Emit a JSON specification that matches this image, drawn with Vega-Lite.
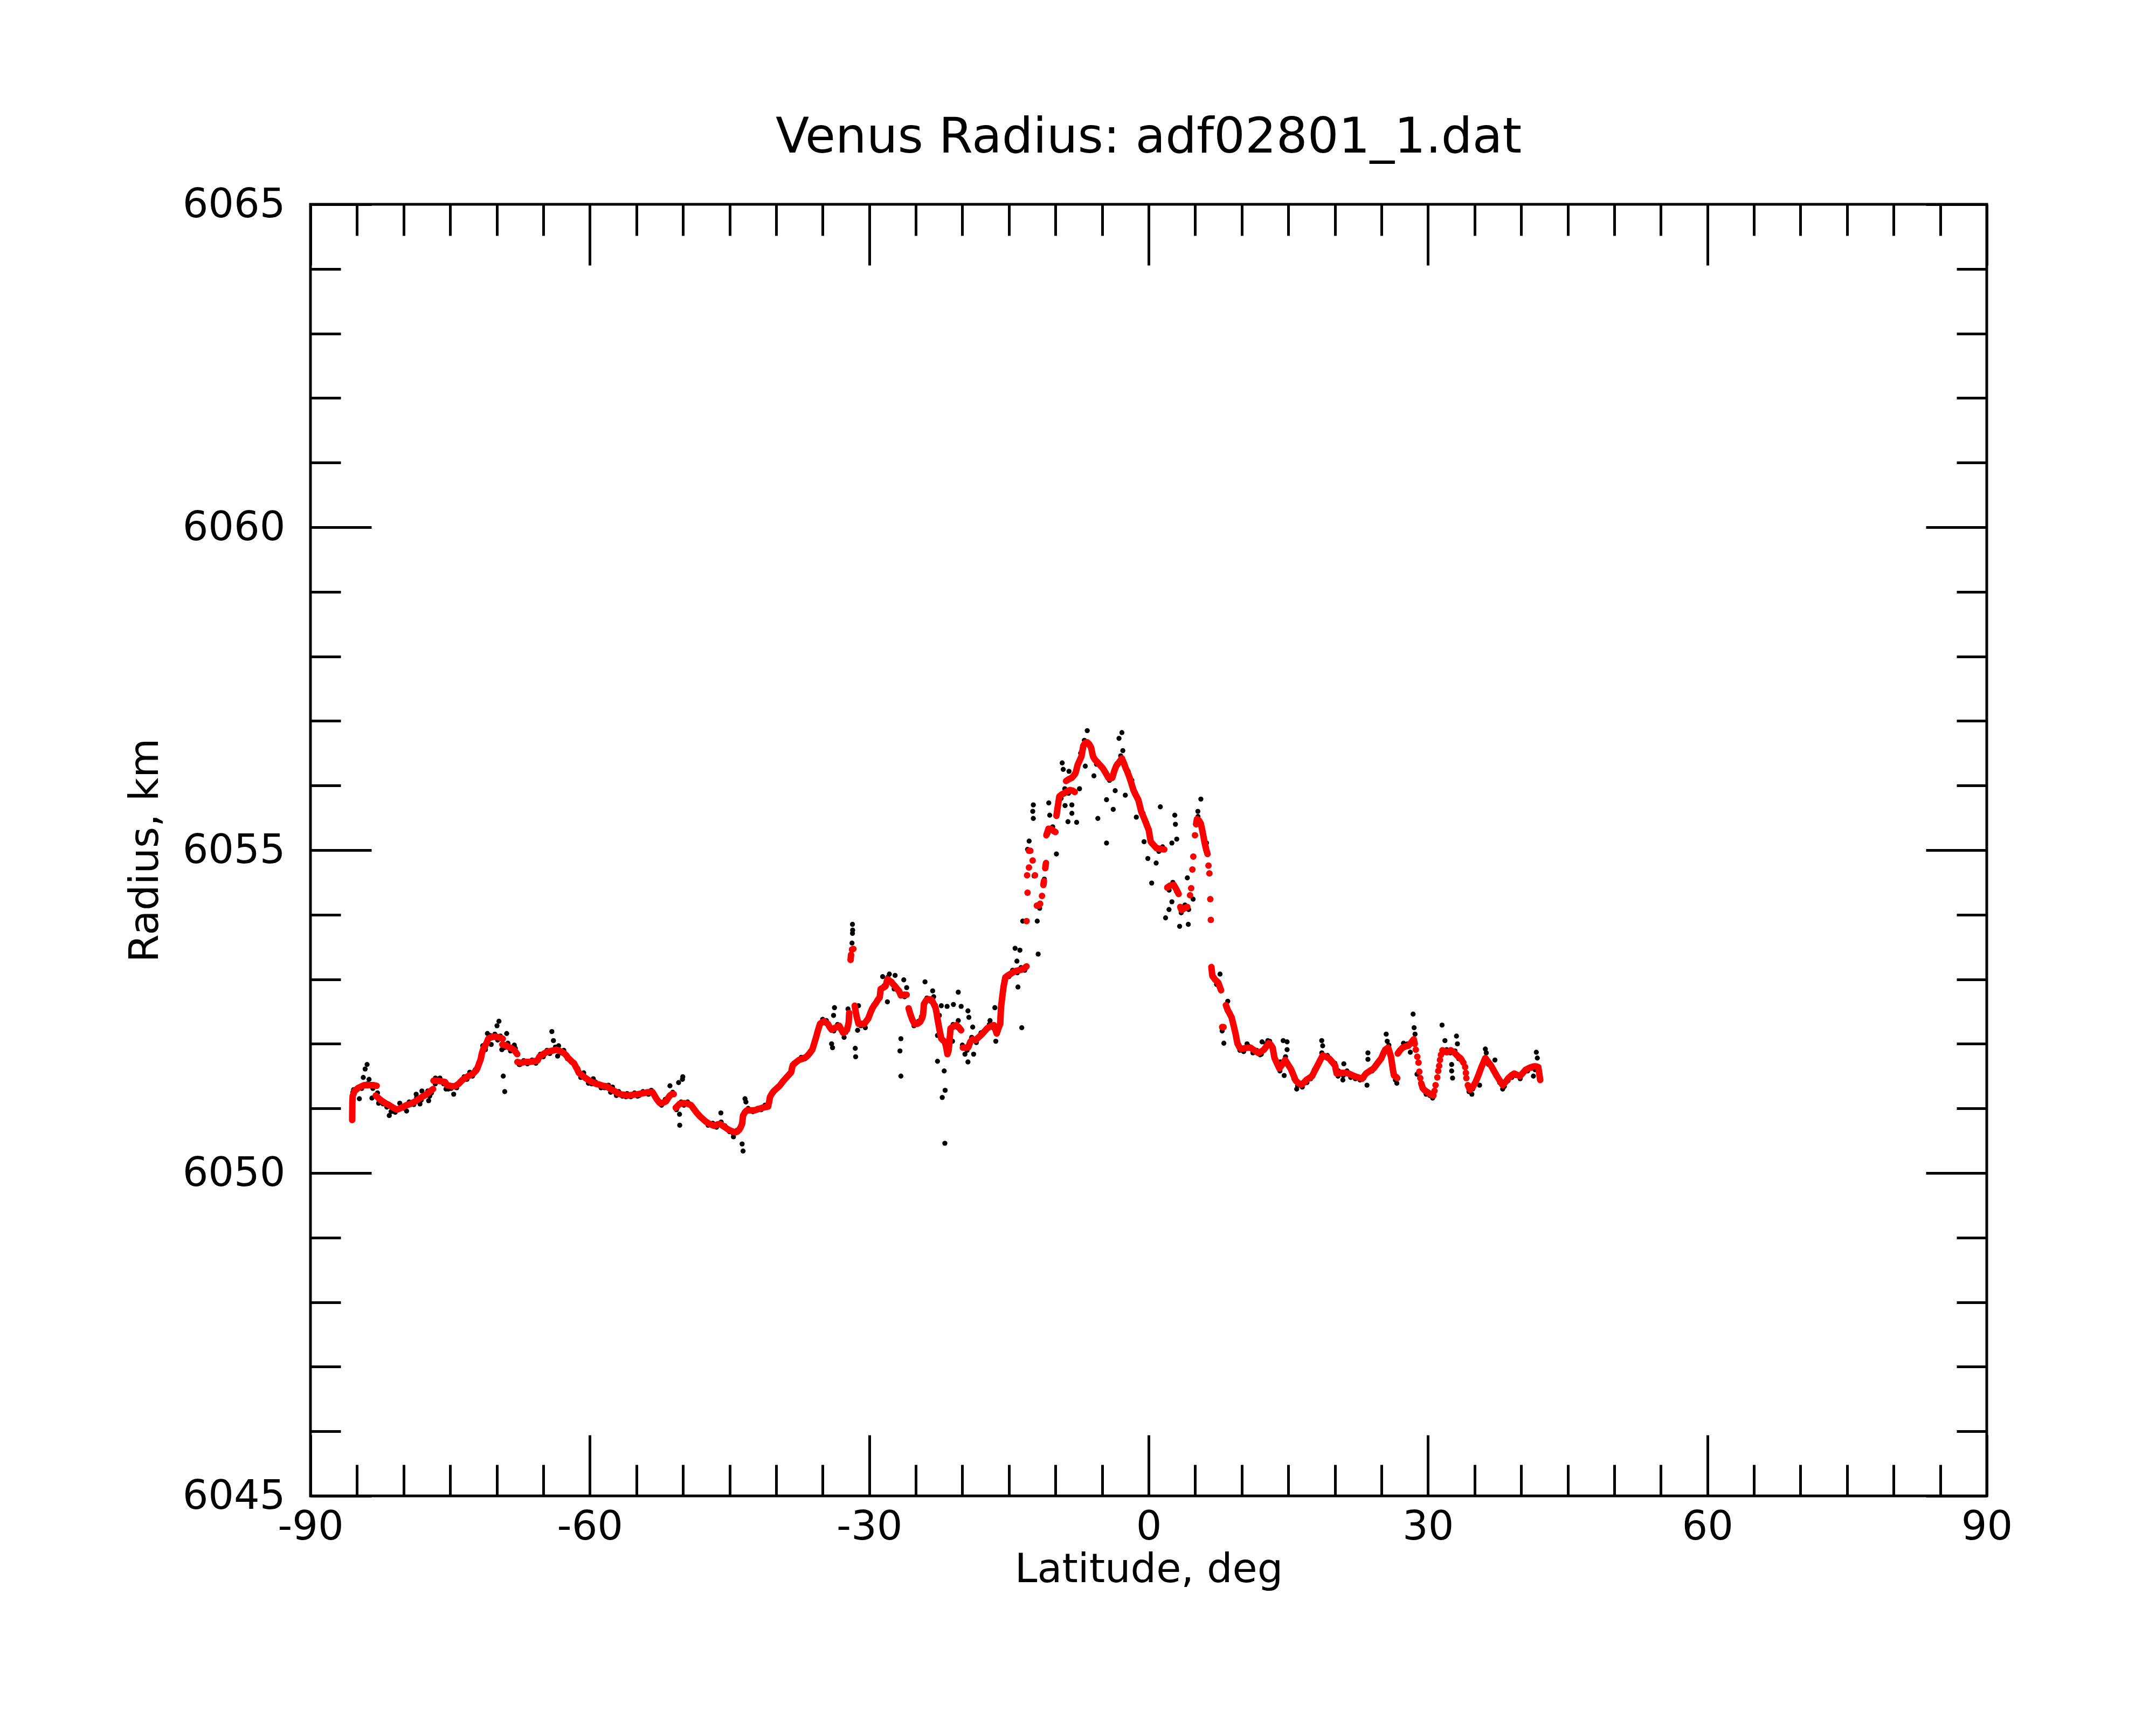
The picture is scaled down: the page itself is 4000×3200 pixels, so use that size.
{
"$schema": "https://vega.github.io/schema/vega-lite/v6.json",
"width": 3110,
"height": 2396,
"autosize": {"type": "none"},
"padding": {"left": 576, "top": 379, "right": 314, "bottom": 425},
"background": "white",
"title": {"text": "Venus Radius: adf02801_1.dat", "fontSize": 91, "font": "DejaVu Sans", "fontWeight": "normal", "color": "black", "anchor": "middle", "frame": "group", "baseline": "alphabetic", "offset": 60, "dy": 92},
"config": {
  "view": {"stroke": "black", "strokeWidth": 5},
  "axis": {"labelFont": "DejaVu Sans", "labelFontSize": 75, "labelColor": "black", "labelLimit": 0, "titleFont": "DejaVu Sans", "titleFontSize": 75, "titleFontWeight": "normal", "titleColor": "black", "titleLimit": 0, "grid": false, "domain": false, "tickColor": "black", "tickWidth": 5, "labelFlush": false, "labelOverlap": false, "labelBound": false}
},
"datasets": {
"raw": [
{"lat":-85.45,"r":6051.25},{"lat":-85.0,"r":6051.30},{"lat":-84.5,"r":6051.31},{"lat":-83.9,"r":6051.38},{"lat":-83.3,"r":6051.31},{"lat":-82.8,"r":6051.24},{"lat":-82.2,"r":6051.07},{"lat":-81.8,"r":6051.02},{"lat":-81.2,"r":6050.99},{"lat":-80.9,"r":6050.94},{"lat":-80.3,"r":6051.03},{"lat":-79.9,"r":6051.00},{"lat":-79.4,"r":6051.10},{"lat":-78.9,"r":6051.06},{"lat":-78.6,"r":6051.17},{"lat":-78.1,"r":6051.13},{"lat":-77.4,"r":6051.27},{"lat":-77.0,"r":6051.24},{"lat":-76.6,"r":6051.38},{"lat":-76.1,"r":6051.47},{"lat":-75.7,"r":6051.38},{"lat":-75.2,"r":6051.30},{"lat":-74.9,"r":6051.31},{"lat":-74.3,"r":6051.32},{"lat":-73.9,"r":6051.42},{"lat":-73.5,"r":6051.49},{"lat":-73.2,"r":6051.45},{"lat":-72.9,"r":6051.56},{"lat":-72.6,"r":6051.50},{"lat":-72.3,"r":6051.60},{"lat":-71.95,"r":6051.68},{"lat":-71.7,"r":6051.82},{"lat":-71.5,"r":6051.97},{"lat":-71.2,"r":6051.95},{"lat":-70.7,"r":6052.13},{"lat":-70.2,"r":6052.15},{"lat":-69.9,"r":6052.06},{"lat":-69.6,"r":6052.12},{"lat":-69.2,"r":6051.94},{"lat":-68.8,"r":6052.01},{"lat":-68.4,"r":6051.90},{"lat":-68.0,"r":6051.93},{"lat":-67.6,"r":6051.68},{"lat":-67.1,"r":6051.74},{"lat":-66.7,"r":6051.69},{"lat":-66.2,"r":6051.75},{"lat":-65.8,"r":6051.70},{"lat":-65.3,"r":6051.84},{"lat":-65.0,"r":6051.80},{"lat":-64.6,"r":6051.90},{"lat":-64.3,"r":6051.85},{"lat":-63.7,"r":6051.95},{"lat":-63.1,"r":6051.86},{"lat":-62.8,"r":6051.90},{"lat":-62.4,"r":6051.77},{"lat":-62.0,"r":6051.72},{"lat":-61.6,"r":6051.66},{"lat":-61.3,"r":6051.62},{"lat":-61.0,"r":6051.52},{"lat":-60.6,"r":6051.50},{"lat":-60.2,"r":6051.44},{"lat":-59.8,"r":6051.38},{"lat":-59.4,"r":6051.41},{"lat":-58.9,"r":6051.35},{"lat":-58.4,"r":6051.32},{"lat":-58.0,"r":6051.36},{"lat":-57.6,"r":6051.28},{"lat":-57.2,"r":6051.24},{"lat":-56.9,"r":6051.26},{"lat":-56.5,"r":6051.19},{"lat":-56.0,"r":6051.23},{"lat":-55.6,"r":6051.18},{"lat":-55.2,"r":6051.24},{"lat":-54.7,"r":6051.20},{"lat":-54.3,"r":6051.26},{"lat":-53.7,"r":6051.22},{"lat":-53.4,"r":6051.28},{"lat":-53.0,"r":6051.17},{"lat":-52.6,"r":6051.09},{"lat":-52.3,"r":6051.05},{"lat":-51.9,"r":6051.14},{"lat":-51.5,"r":6051.17},{"lat":-51.1,"r":6051.25},{"lat":-50.7,"r":6050.98},{"lat":-50.2,"r":6051.10},{"lat":-49.9,"r":6051.05},{"lat":-49.5,"r":6051.10},{"lat":-49.0,"r":6051.02},{"lat":-48.6,"r":6050.96},{"lat":-48.1,"r":6050.86},{"lat":-47.7,"r":6050.82},{"lat":-47.3,"r":6050.74},{"lat":-46.8,"r":6050.77},{"lat":-46.4,"r":6050.71},{"lat":-45.9,"r":6050.79},{"lat":-45.5,"r":6050.73},{"lat":-45.0,"r":6050.64},{"lat":-44.6,"r":6050.61},{"lat":-44.2,"r":6050.66},{"lat":-43.9,"r":6050.70},{"lat":-43.4,"r":6050.92},{"lat":-43.0,"r":6051.00},{"lat":-42.5,"r":6050.95},{"lat":-42.0,"r":6051.00},{"lat":-41.6,"r":6050.98},{"lat":-41.2,"r":6051.05},{"lat":-40.7,"r":6051.14},{"lat":-40.3,"r":6051.24},{"lat":-39.8,"r":6051.34},{"lat":-39.4,"r":6051.38},{"lat":-38.9,"r":6051.49},{"lat":-38.5,"r":6051.53},{"lat":-38.1,"r":6051.70},{"lat":-37.7,"r":6051.73},{"lat":-37.3,"r":6051.79},{"lat":-36.9,"r":6051.77},{"lat":-36.5,"r":6051.82},{"lat":-36.2,"r":6051.88},{"lat":-35.8,"r":6052.05},{"lat":-35.4,"r":6052.28},{"lat":-35.0,"r":6052.38},{"lat":-34.6,"r":6052.36},{"lat":-34.2,"r":6052.24},{"lat":-33.8,"r":6052.20},{"lat":-33.4,"r":6052.30},{"lat":-32.9,"r":6052.20},{"lat":-32.5,"r":6052.18},{"lat":-31.3,"r":6052.39},{"lat":-30.9,"r":6052.28},{"lat":-30.4,"r":6052.33},{"lat":-30.0,"r":6052.44},{"lat":-29.6,"r":6052.57},{"lat":-29.2,"r":6052.66},{"lat":-28.9,"r":6052.75},{"lat":-28.4,"r":6052.90},{"lat":-28.0,"r":6053.03},{"lat":-27.5,"r":6052.94},{"lat":-27.1,"r":6052.87},{"lat":-26.7,"r":6052.78},{"lat":-26.2,"r":6052.73},{"lat":-25.6,"r":6052.49},{"lat":-25.2,"r":6052.28},{"lat":-24.7,"r":6052.35},{"lat":-24.4,"r":6052.42},{"lat":-23.8,"r":6052.71},{"lat":-23.4,"r":6052.66},{"lat":-22.9,"r":6052.60},{"lat":-22.6,"r":6052.35},{"lat":-22.3,"r":6052.11},{"lat":-21.9,"r":6052.00},{"lat":-21.4,"r":6052.05},{"lat":-21.0,"r":6052.30},{"lat":-20.5,"r":6052.25},{"lat":-20.0,"r":6051.98},{"lat":-19.5,"r":6051.90},{"lat":-19.0,"r":6052.10},{"lat":-18.5,"r":6052.02},{"lat":-18.0,"r":6052.17},{"lat":-17.5,"r":6052.20},{"lat":-17.1,"r":6052.30},{"lat":-16.7,"r":6052.25},{"lat":-16.2,"r":6052.19},{"lat":-15.8,"r":6052.62},{"lat":-15.5,"r":6052.98},{"lat":-15.0,"r":6053.04},{"lat":-14.6,"r":6053.14},{"lat":-14.1,"r":6053.10},{"lat":-13.7,"r":6053.18},{"lat":-13.3,"r":6053.14},{"lat":-12.3,"r":6054.60},{"lat":-11.7,"r":6054.10},{"lat":-11.2,"r":6054.55},{"lat":-10.8,"r":6055.26},{"lat":-10.3,"r":6055.36},{"lat":-9.8,"r":6055.58},{"lat":-9.4,"r":6055.80},{"lat":-9.0,"r":6055.95},{"lat":-8.6,"r":6055.88},{"lat":-8.1,"r":6056.15},{"lat":-7.7,"r":6056.25},{"lat":-7.3,"r":6056.50},{"lat":-6.9,"r":6056.70},{"lat":-6.4,"r":6056.62},{"lat":-6.0,"r":6056.48},{"lat":-5.6,"r":6056.33},{"lat":-5.1,"r":6056.30},{"lat":-4.7,"r":6056.22},{"lat":-4.2,"r":6056.08},{"lat":-3.8,"r":6056.16},{"lat":-3.4,"r":6056.34},{"lat":-3.0,"r":6056.46},{"lat":-2.6,"r":6056.30},{"lat":-2.2,"r":6056.22},{"lat":-1.8,"r":6056.08},{"lat":-1.4,"r":6055.88},{"lat":-1.0,"r":6055.72},{"lat":-0.6,"r":6055.57},{"lat":-0.2,"r":6055.42},{"lat":0.3,"r":6055.10},{"lat":0.7,"r":6055.06},{"lat":1.1,"r":6054.98},{"lat":1.5,"r":6055.05},{"lat":2.2,"r":6054.38},{"lat":2.6,"r":6054.50},{"lat":3.0,"r":6054.36},{"lat":3.5,"r":6054.03},{"lat":3.9,"r":6054.15},{"lat":4.3,"r":6054.08},{"lat":5.3,"r":6055.52},{"lat":5.7,"r":6055.36},{"lat":6.1,"r":6055.06},{"lat":7.0,"r":6053.04},{"lat":7.3,"r":6052.92},{"lat":7.9,"r":6052.20},{"lat":8.6,"r":6052.50},{"lat":9.0,"r":6052.36},{"lat":9.4,"r":6052.12},{"lat":9.8,"r":6051.90},{"lat":10.2,"r":6051.88},{"lat":10.7,"r":6051.97},{"lat":11.2,"r":6051.86},{"lat":11.6,"r":6051.90},{"lat":12.1,"r":6051.84},{"lat":12.6,"r":6052.00},{"lat":13.0,"r":6052.04},{"lat":13.6,"r":6051.74},{"lat":14.1,"r":6051.58},{"lat":14.7,"r":6051.80},{"lat":15.1,"r":6051.64},{"lat":15.6,"r":6051.46},{"lat":16.0,"r":6051.35},{"lat":16.5,"r":6051.33},{"lat":17.0,"r":6051.40},{"lat":17.4,"r":6051.46},{"lat":17.8,"r":6051.60},{"lat":18.2,"r":6051.68},{"lat":18.6,"r":6051.86},{"lat":19.2,"r":6051.82},{"lat":19.6,"r":6051.72},{"lat":20.0,"r":6051.70},{"lat":20.4,"r":6051.58},{"lat":20.9,"r":6051.51},{"lat":21.3,"r":6051.58},{"lat":21.7,"r":6051.48},{"lat":22.2,"r":6051.46},{"lat":22.7,"r":6051.44},{"lat":23.1,"r":6051.47},{"lat":23.6,"r":6051.57},{"lat":24.0,"r":6051.58},{"lat":24.4,"r":6051.66},{"lat":24.8,"r":6051.74},{"lat":25.3,"r":6051.88},{"lat":25.8,"r":6051.98},{"lat":26.2,"r":6051.60},{"lat":26.5,"r":6051.44},{"lat":26.9,"r":6051.88},{"lat":27.4,"r":6051.97},{"lat":27.8,"r":6052.00},{"lat":28.3,"r":6052.04},{"lat":29.5,"r":6051.30},{"lat":29.8,"r":6051.22},{"lat":30.2,"r":6051.20},{"lat":30.5,"r":6051.16},{"lat":31.6,"r":6051.86},{"lat":32.0,"r":6051.91},{"lat":32.4,"r":6051.86},{"lat":32.9,"r":6051.89},{"lat":33.3,"r":6051.77},{"lat":34.4,"r":6051.26},{"lat":34.8,"r":6051.30},{"lat":35.2,"r":6051.45},{"lat":35.6,"r":6051.60},{"lat":36.0,"r":6051.74},{"lat":36.5,"r":6051.68},{"lat":36.9,"r":6051.62},{"lat":37.3,"r":6051.53},{"lat":37.7,"r":6051.40},{"lat":38.2,"r":6051.34},{"lat":38.6,"r":6051.43},{"lat":39.0,"r":6051.48},{"lat":39.4,"r":6051.51},{"lat":39.9,"r":6051.46},{"lat":40.3,"r":6051.56},{"lat":40.7,"r":6051.58},{"lat":41.1,"r":6051.62},{"lat":41.5,"r":6051.60},{"lat":41.9,"r":6051.60},{"lat":42.0,"r":6051.50},
{"lat":-83.92,"r":6051.68},{"lat":-84.13,"r":6051.61},{"lat":-84.33,"r":6051.48},{"lat":-83.71,"r":6051.45},{"lat":-84.75,"r":6051.15},{"lat":-85.37,"r":6051.29},{"lat":-83.40,"r":6051.16},{"lat":-82.68,"r":6051.08},{"lat":-81.54,"r":6050.89},{"lat":-81.34,"r":6050.95},{"lat":-80.41,"r":6051.08},{"lat":-79.68,"r":6050.96},{"lat":-78.65,"r":6051.22},{"lat":-78.03,"r":6051.27},{"lat":-78.24,"r":6051.07},{"lat":-77.31,"r":6051.12},{"lat":-77.20,"r":6051.19},{"lat":-76.58,"r":6051.47},{"lat":-75.45,"r":6051.30},{"lat":-74.62,"r":6051.22},{"lat":-71.00,"r":6052.16},{"lat":-69.97,"r":6052.28},{"lat":-69.76,"r":6052.35},{"lat":-68.93,"r":6052.16},{"lat":-69.45,"r":6051.91},{"lat":-70.59,"r":6051.99},{"lat":-71.21,"r":6051.91},{"lat":-68.11,"r":6051.98},{"lat":-68.52,"r":6051.89},{"lat":-69.30,"r":6051.50},{"lat":-69.14,"r":6051.26},{"lat":-67.49,"r":6051.68},{"lat":-64.08,"r":6052.19},{"lat":-63.91,"r":6052.05},{"lat":-63.35,"r":6051.97},{"lat":-63.46,"r":6051.81},{"lat":-60.66,"r":6051.55},{"lat":-60.98,"r":6051.48},{"lat":-59.63,"r":6051.46},{"lat":-60.15,"r":6051.39},{"lat":-58.80,"r":6051.32},{"lat":-57.57,"r":6051.33},{"lat":-57.77,"r":6051.25},{"lat":-57.15,"r":6051.20},{"lat":-56.12,"r":6051.18},{"lat":-54.88,"r":6051.19},
{"lat":-31.80,"r":6053.85},{"lat":-31.78,"r":6053.76},{"lat":-31.80,"r":6053.71},{"lat":-31.85,"r":6053.56},{"lat":-51.40,"r":6051.35},{"lat":-50.47,"r":6051.40},{"lat":-50.06,"r":6051.45},{"lat":-50.02,"r":6051.49},{"lat":-50.37,"r":6050.91},{"lat":-50.35,"r":6050.74},{"lat":-45.93,"r":6050.93},{"lat":-43.34,"r":6051.15},{"lat":-43.24,"r":6051.10},{"lat":-43.65,"r":6050.45},{"lat":-43.55,"r":6050.34},{"lat":-44.58,"r":6050.56},{"lat":-33.73,"r":6052.56},{"lat":-33.83,"r":6052.44},{"lat":-34.04,"r":6052.00},{"lat":-33.94,"r":6051.94},{"lat":-32.70,"r":6052.10},{"lat":-32.28,"r":6052.54},{"lat":-31.15,"r":6052.59},{"lat":-31.25,"r":6052.21},{"lat":-31.50,"r":6051.93},{"lat":-31.46,"r":6051.80},{"lat":-30.42,"r":6052.25},{"lat":-28.56,"r":6053.04},{"lat":-27.84,"r":6053.08},{"lat":-27.22,"r":6053.06},{"lat":-26.29,"r":6052.99},{"lat":-25.98,"r":6052.87},{"lat":-27.32,"r":6052.85},{"lat":-28.05,"r":6052.65},{"lat":-24.01,"r":6052.96},{"lat":-23.19,"r":6052.82},{"lat":-23.08,"r":6052.73},{"lat":-22.26,"r":6052.59},{"lat":-21.64,"r":6052.58},{"lat":-22.47,"r":6052.44},{"lat":-22.67,"r":6052.13},{"lat":-26.60,"r":6052.08},{"lat":-26.70,"r":6051.89},{"lat":-26.60,"r":6051.50},{"lat":-22.67,"r":6051.73},{"lat":-21.95,"r":6051.58},{"lat":-21.85,"r":6051.28},{"lat":-22.16,"r":6051.17},{"lat":-21.88,"r":6050.46},
{"lat":-6.59,"r":6056.85},{"lat":-2.87,"r":6056.82},{"lat":-3.18,"r":6056.73},{"lat":-9.28,"r":6056.35},{"lat":-9.17,"r":6056.25},{"lat":-8.55,"r":6056.22},{"lat":-10.72,"r":6055.73},{"lat":-12.38,"r":6055.70},{"lat":-12.44,"r":6055.60},{"lat":-12.38,"r":6055.49},{"lat":-10.62,"r":6055.54},{"lat":-8.97,"r":6055.69},{"lat":-8.24,"r":6055.70},{"lat":-8.24,"r":6055.57},{"lat":-8.66,"r":6055.44},{"lat":-7.73,"r":6055.43},{"lat":-7.42,"r":6055.95},{"lat":-6.80,"r":6056.30},{"lat":-5.87,"r":6056.15},{"lat":-5.45,"r":6055.49},{"lat":-4.52,"r":6055.78},{"lat":-4.52,"r":6055.11},{"lat":-3.80,"r":6055.63},{"lat":-3.59,"r":6055.92},{"lat":-2.77,"r":6056.54},{"lat":-2.50,"r":6055.85},{"lat":-1.32,"r":6055.51},{"lat":-0.49,"r":6055.13},{"lat":-0.08,"r":6054.87},{"lat":0.33,"r":6054.49},{"lat":0.81,"r":6054.80},{"lat":1.26,"r":6055.67},{"lat":2.50,"r":6055.11},{"lat":2.81,"r":6055.54},{"lat":2.88,"r":6055.40},{"lat":3.02,"r":6055.17},{"lat":1.82,"r":6053.95},{"lat":2.19,"r":6054.08},{"lat":2.50,"r":6054.20},{"lat":4.16,"r":6054.57},{"lat":4.78,"r":6054.24},{"lat":3.33,"r":6053.82},{"lat":4.26,"r":6053.85},{"lat":5.61,"r":6055.79},{"lat":5.29,"r":6055.60},{"lat":6.22,"r":6055.11},{"lat":7.67,"r":6053.08},{"lat":8.50,"r":6052.66},{"lat":8.08,"r":6052.01},{"lat":10.57,"r":6052.00},{"lat":-20.44,"r":6052.80},{"lat":-20.96,"r":6052.61},{"lat":-20.13,"r":6052.58},{"lat":-19.40,"r":6052.51},{"lat":-19.30,"r":6052.41},{"lat":-20.44,"r":6052.36},{"lat":-21.06,"r":6052.04},{"lat":-19.72,"r":6051.84},{"lat":-19.40,"r":6051.72},{"lat":-18.79,"r":6051.84},{"lat":-18.89,"r":6052.26},{"lat":-16.51,"r":6052.56},{"lat":-17.03,"r":6052.36},{"lat":-16.41,"r":6052.04},{"lat":-13.62,"r":6052.25},{"lat":-14.34,"r":6053.48},{"lat":-13.82,"r":6053.45},{"lat":-14.14,"r":6053.28},{"lat":-14.03,"r":6052.88},{"lat":-13.52,"r":6053.90},{"lat":-11.86,"r":6053.39},{"lat":-11.96,"r":6053.90},{"lat":-12.83,"r":6055.14},{"lat":-13.00,"r":6055.01},{"lat":-9.90,"r":6054.94},
{"lat":28.40,"r":6052.46},{"lat":28.51,"r":6052.25},{"lat":28.61,"r":6052.15},{"lat":31.51,"r":6052.29},{"lat":33.06,"r":6052.12},{"lat":31.82,"r":6052.05},{"lat":33.16,"r":6052.00},{"lat":25.51,"r":6052.15},{"lat":25.62,"r":6052.04},{"lat":18.59,"r":6052.05},{"lat":18.69,"r":6051.97},{"lat":14.87,"r":6051.91},{"lat":14.45,"r":6052.05},{"lat":14.87,"r":6052.03},{"lat":14.56,"r":6051.51},{"lat":14.14,"r":6051.72},{"lat":12.18,"r":6052.03},{"lat":12.80,"r":6052.05},{"lat":11.97,"r":6051.83},{"lat":23.55,"r":6051.86},{"lat":23.55,"r":6051.76},{"lat":23.45,"r":6051.36},{"lat":20.96,"r":6051.69},{"lat":20.86,"r":6051.44},{"lat":26.65,"r":6051.39},{"lat":27.37,"r":6052.01},{"lat":28.10,"r":6051.87},{"lat":28.82,"r":6051.53},{"lat":32.54,"r":6051.58},{"lat":32.64,"r":6051.47},{"lat":32.54,"r":6051.68},{"lat":34.71,"r":6051.22},{"lat":35.54,"r":6051.36},{"lat":36.16,"r":6051.92},{"lat":36.26,"r":6051.86},{"lat":37.19,"r":6051.75},{"lat":38.02,"r":6051.30},{"lat":41.63,"r":6051.87},{"lat":41.74,"r":6051.78},{"lat":41.32,"r":6051.50},{"lat":15.90,"r":6051.30},{"lat":30.16,"r":6051.22},{"lat":20.34,"r":6051.50}
],
"smooth": [
{"lat":-85.52,"r":6050.82,"seg":1},{"lat":-85.51,"r":6050.97,"seg":1},{"lat":-85.50,"r":6051.08,"seg":1},{"lat":-85.47,"r":6051.19,"seg":1},{"lat":-85.26,"r":6051.27,"seg":1},{"lat":-84.85,"r":6051.32,"seg":1},{"lat":-84.23,"r":6051.36,"seg":1},{"lat":-83.61,"r":6051.36,"seg":1},{"lat":-83.20,"r":6051.36,"seg":1},{"lat":-82.89,"r":6051.35,"seg":1},
{"lat":-82.99,"r":6051.20,"seg":2},{"lat":-82.70,"r":6051.16,"seg":2},{"lat":-82.37,"r":6051.12,"seg":2},{"lat":-81.95,"r":6051.08,"seg":2},{"lat":-81.54,"r":6051.05,"seg":2},{"lat":-81.10,"r":6051.01,"seg":2},{"lat":-80.72,"r":6050.98,"seg":2},{"lat":-80.40,"r":6051.00,"seg":2},{"lat":-80.10,"r":6051.02,"seg":2},{"lat":-79.70,"r":6051.05,"seg":2},{"lat":-79.27,"r":6051.07,"seg":2},{"lat":-78.85,"r":6051.10,"seg":2},{"lat":-78.44,"r":6051.14,"seg":2},{"lat":-78.00,"r":6051.18,"seg":2},{"lat":-77.61,"r":6051.21,"seg":2},{"lat":-77.20,"r":6051.26,"seg":2},{"lat":-76.83,"r":6051.30,"seg":2},
{"lat":-76.79,"r":6051.43,"seg":3},{"lat":-76.40,"r":6051.43,"seg":3},{"lat":-75.96,"r":6051.42,"seg":3},{"lat":-75.55,"r":6051.41,"seg":3},{"lat":-75.34,"r":6051.36,"seg":3},{"lat":-75.00,"r":6051.35,"seg":3},{"lat":-74.72,"r":6051.34,"seg":3},{"lat":-74.40,"r":6051.35,"seg":3},{"lat":-74.10,"r":6051.38,"seg":3},{"lat":-73.69,"r":6051.44,"seg":3},{"lat":-73.38,"r":6051.47,"seg":3},{"lat":-73.07,"r":6051.50,"seg":3},{"lat":-72.75,"r":6051.52,"seg":3},{"lat":-72.45,"r":6051.55,"seg":3},{"lat":-72.20,"r":6051.59,"seg":3},{"lat":-72.03,"r":6051.64,"seg":3},{"lat":-71.83,"r":6051.72,"seg":3},{"lat":-71.72,"r":6051.76,"seg":3},{"lat":-71.65,"r":6051.81,"seg":3},{"lat":-71.58,"r":6051.86,"seg":3},{"lat":-71.41,"r":6051.93,"seg":3},{"lat":-71.25,"r":6051.97,"seg":3},{"lat":-71.10,"r":6052.01,"seg":3},{"lat":-70.90,"r":6052.08,"seg":3},{"lat":-70.62,"r":6052.10,"seg":3},{"lat":-70.38,"r":6052.11,"seg":3},{"lat":-70.05,"r":6052.11,"seg":3},{"lat":-69.76,"r":6052.10,"seg":3},{"lat":-69.55,"r":6052.09,"seg":3},{"lat":-69.35,"r":6052.08,"seg":3},
{"lat":-69.40,"r":6051.99,"seg":4},{"lat":-69.15,"r":6051.98,"seg":4},{"lat":-68.93,"r":6051.97,"seg":4},{"lat":-68.72,"r":6051.95,"seg":4},{"lat":-68.52,"r":6051.94,"seg":4},{"lat":-68.30,"r":6051.92,"seg":4},{"lat":-68.11,"r":6051.90,"seg":4},{"lat":-67.95,"r":6051.87,"seg":4},{"lat":-67.80,"r":6051.84,"seg":4},
{"lat":-67.78,"r":6051.72,"seg":5},{"lat":-67.55,"r":6051.71,"seg":5},{"lat":-67.28,"r":6051.71,"seg":5},{"lat":-66.90,"r":6051.72,"seg":5},{"lat":-66.45,"r":6051.72,"seg":5},{"lat":-66.05,"r":6051.73,"seg":5},{"lat":-65.63,"r":6051.74,"seg":5},{"lat":-65.42,"r":6051.80,"seg":5},{"lat":-65.10,"r":6051.83,"seg":5},{"lat":-64.80,"r":6051.86,"seg":5},{"lat":-64.50,"r":6051.88,"seg":5},{"lat":-64.18,"r":6051.89,"seg":5},{"lat":-63.85,"r":6051.90,"seg":5},{"lat":-63.56,"r":6051.91,"seg":5},{"lat":-63.25,"r":6051.89,"seg":5},{"lat":-62.94,"r":6051.87,"seg":5},{"lat":-62.73,"r":6051.85,"seg":5},{"lat":-62.53,"r":6051.82,"seg":5},{"lat":-62.32,"r":6051.78,"seg":5},{"lat":-62.11,"r":6051.75,"seg":5},{"lat":-61.90,"r":6051.72,"seg":5},{"lat":-61.70,"r":6051.70,"seg":5},{"lat":-61.49,"r":6051.64,"seg":5},{"lat":-61.33,"r":6051.60,"seg":5},{"lat":-61.18,"r":6051.55,"seg":5},{"lat":-60.82,"r":6051.51,"seg":5},{"lat":-60.46,"r":6051.47,"seg":5},{"lat":-60.05,"r":6051.43,"seg":5},{"lat":-59.63,"r":6051.40,"seg":5},{"lat":-59.32,"r":6051.38,"seg":5},{"lat":-59.01,"r":6051.37,"seg":5},{"lat":-58.60,"r":6051.35,"seg":5},{"lat":-58.18,"r":6051.34,"seg":5},{"lat":-57.77,"r":6051.30,"seg":5},{"lat":-57.36,"r":6051.27,"seg":5},{"lat":-57.05,"r":6051.24,"seg":5},{"lat":-56.74,"r":6051.22,"seg":5},{"lat":-56.32,"r":6051.21,"seg":5},{"lat":-55.91,"r":6051.20,"seg":5},{"lat":-55.40,"r":6051.21,"seg":5},{"lat":-54.88,"r":6051.22,"seg":5},{"lat":-54.47,"r":6051.23,"seg":5},{"lat":-54.05,"r":6051.24,"seg":5},{"lat":-53.88,"r":6051.25,"seg":5},{"lat":-53.55,"r":6051.25,"seg":5},{"lat":-53.26,"r":6051.25,"seg":5},{"lat":-53.05,"r":6051.20,"seg":5},{"lat":-52.85,"r":6051.15,"seg":5},{"lat":-52.65,"r":6051.11,"seg":5},{"lat":-52.44,"r":6051.08,"seg":5},{"lat":-52.13,"r":6051.09,"seg":5},{"lat":-51.82,"r":6051.11,"seg":5},{"lat":-51.60,"r":6051.16,"seg":5},{"lat":-51.40,"r":6051.20,"seg":5},{"lat":-51.20,"r":6051.22,"seg":5},{"lat":-50.99,"r":6051.22,"seg":5},
{"lat":-50.78,"r":6051.01,"seg":6},{"lat":-50.57,"r":6051.04,"seg":6},{"lat":-50.37,"r":6051.07,"seg":6},{"lat":-50.06,"r":6051.08,"seg":6},{"lat":-49.75,"r":6051.08,"seg":6},{"lat":-49.44,"r":6051.07,"seg":6},{"lat":-49.13,"r":6051.05,"seg":6},{"lat":-48.82,"r":6050.99,"seg":6},{"lat":-48.51,"r":6050.93,"seg":6},{"lat":-48.20,"r":6050.88,"seg":6},{"lat":-47.89,"r":6050.84,"seg":6},{"lat":-47.58,"r":6050.80,"seg":6},{"lat":-47.27,"r":6050.77,"seg":6},{"lat":-46.96,"r":6050.75,"seg":6},{"lat":-46.65,"r":6050.73,"seg":6},{"lat":-46.34,"r":6050.75,"seg":6},{"lat":-46.03,"r":6050.76,"seg":6},{"lat":-45.72,"r":6050.73,"seg":6},{"lat":-45.41,"r":6050.70,"seg":6},{"lat":-45.10,"r":6050.67,"seg":6},{"lat":-44.79,"r":6050.65,"seg":6},{"lat":-44.58,"r":6050.64,"seg":6},{"lat":-44.38,"r":6050.63,"seg":6},{"lat":-44.17,"r":6050.64,"seg":6},{"lat":-43.96,"r":6050.67,"seg":6},{"lat":-43.80,"r":6050.71,"seg":6},{"lat":-43.65,"r":6050.76,"seg":6},{"lat":-43.55,"r":6050.89,"seg":6},{"lat":-43.35,"r":6050.94,"seg":6},{"lat":-43.14,"r":6050.97,"seg":6},{"lat":-42.72,"r":6050.97,"seg":6},{"lat":-42.31,"r":6050.97,"seg":6},{"lat":-41.90,"r":6050.99,"seg":6},{"lat":-41.48,"r":6051.01,"seg":6},{"lat":-41.17,"r":6051.02,"seg":6},{"lat":-40.86,"r":6051.03,"seg":6},{"lat":-40.75,"r":6051.10,"seg":6},{"lat":-40.65,"r":6051.18,"seg":6},{"lat":-40.45,"r":6051.23,"seg":6},{"lat":-40.24,"r":6051.27,"seg":6},{"lat":-39.93,"r":6051.31,"seg":6},{"lat":-39.62,"r":6051.35,"seg":6},{"lat":-39.31,"r":6051.41,"seg":6},{"lat":-39.00,"r":6051.46,"seg":6},{"lat":-38.69,"r":6051.51,"seg":6},{"lat":-38.38,"r":6051.56,"seg":6},{"lat":-38.30,"r":6051.62,"seg":6},{"lat":-38.20,"r":6051.67,"seg":6},{"lat":-37.90,"r":6051.71,"seg":6},{"lat":-37.55,"r":6051.75,"seg":6},{"lat":-37.14,"r":6051.77,"seg":6},{"lat":-36.73,"r":6051.80,"seg":6},{"lat":-36.42,"r":6051.85,"seg":6},{"lat":-36.11,"r":6051.91,"seg":6},{"lat":-35.90,"r":6052.01,"seg":6},{"lat":-35.69,"r":6052.11,"seg":6},{"lat":-35.50,"r":6052.21,"seg":6},{"lat":-35.28,"r":6052.31,"seg":6},{"lat":-34.87,"r":6052.35,"seg":6},{"lat":-34.66,"r":6052.33,"seg":6},{"lat":-34.45,"r":6052.31,"seg":6},{"lat":-34.25,"r":6052.26,"seg":6},{"lat":-34.04,"r":6052.22,"seg":6},{"lat":-33.63,"r":6052.25,"seg":6},{"lat":-33.21,"r":6052.28,"seg":6},{"lat":-33.00,"r":6052.22,"seg":6},{"lat":-32.80,"r":6052.17,"seg":6},{"lat":-32.59,"r":6052.19,"seg":6},{"lat":-32.39,"r":6052.22,"seg":6},{"lat":-32.25,"r":6052.30,"seg":6},{"lat":-32.20,"r":6052.34,"seg":6},{"lat":-32.15,"r":6052.48,"seg":6},
{"lat":-32.00,"r":6053.30,"seg":7},{"lat":-31.95,"r":6053.38,"seg":7},
{"lat":-31.85,"r":6053.46,"seg":8},{"lat":-31.70,"r":6053.47,"seg":8},
{"lat":-31.56,"r":6052.59,"seg":9},{"lat":-31.45,"r":6052.50,"seg":9},{"lat":-31.35,"r":6052.42,"seg":9},{"lat":-31.15,"r":6052.31,"seg":9},{"lat":-30.84,"r":6052.31,"seg":9},{"lat":-30.53,"r":6052.31,"seg":9},{"lat":-30.32,"r":6052.35,"seg":9},{"lat":-30.11,"r":6052.39,"seg":9},{"lat":-29.90,"r":6052.47,"seg":9},{"lat":-29.70,"r":6052.54,"seg":9},{"lat":-29.50,"r":6052.59,"seg":9},{"lat":-29.29,"r":6052.63,"seg":9},{"lat":-29.08,"r":6052.68,"seg":9},{"lat":-28.87,"r":6052.72,"seg":9},{"lat":-28.77,"r":6052.85,"seg":9},{"lat":-28.50,"r":6052.87,"seg":9},{"lat":-28.25,"r":6052.89,"seg":9},{"lat":-28.05,"r":6053.00,"seg":9},{"lat":-27.85,"r":6052.98,"seg":9},{"lat":-27.63,"r":6052.96,"seg":9},{"lat":-27.42,"r":6052.92,"seg":9},{"lat":-27.22,"r":6052.89,"seg":9},{"lat":-27.00,"r":6052.85,"seg":9},{"lat":-26.81,"r":6052.82,"seg":9},{"lat":-26.60,"r":6052.75,"seg":9},{"lat":-26.30,"r":6052.76,"seg":9},{"lat":-25.98,"r":6052.76,"seg":9},
{"lat":-25.77,"r":6052.55,"seg":10},{"lat":-25.57,"r":6052.45,"seg":10},{"lat":-25.36,"r":6052.37,"seg":10},{"lat":-25.15,"r":6052.31,"seg":10},{"lat":-24.84,"r":6052.31,"seg":10},{"lat":-24.53,"r":6052.34,"seg":10},{"lat":-24.32,"r":6052.40,"seg":10},{"lat":-24.22,"r":6052.45,"seg":10},{"lat":-24.12,"r":6052.62,"seg":10},{"lat":-23.90,"r":6052.67,"seg":10},{"lat":-23.70,"r":6052.69,"seg":10},{"lat":-23.50,"r":6052.69,"seg":10},{"lat":-23.29,"r":6052.68,"seg":10},{"lat":-23.08,"r":6052.62,"seg":10},{"lat":-22.88,"r":6052.56,"seg":10},{"lat":-22.77,"r":6052.48,"seg":10},{"lat":-22.67,"r":6052.39,"seg":10},{"lat":-22.57,"r":6052.31,"seg":10},{"lat":-22.47,"r":6052.23,"seg":10},{"lat":-22.36,"r":6052.15,"seg":10},{"lat":-22.26,"r":6052.08,"seg":10},{"lat":-22.05,"r":6052.05,"seg":10},{"lat":-21.85,"r":6052.03,"seg":10},{"lat":-21.70,"r":6051.92,"seg":10},{"lat":-21.60,"r":6051.84,"seg":10},{"lat":-21.47,"r":6051.90,"seg":10},{"lat":-21.35,"r":6052.10,"seg":10},{"lat":-21.27,"r":6052.24,"seg":10},{"lat":-20.96,"r":6052.27,"seg":10},{"lat":-20.65,"r":6052.29,"seg":10},{"lat":-20.40,"r":6052.26,"seg":10},{"lat":-20.13,"r":6052.21,"seg":10},
{"lat":-19.95,"r":6051.94,"seg":11},{"lat":-19.62,"r":6051.94,"seg":11},{"lat":-19.35,"r":6051.95,"seg":11},{"lat":-19.15,"r":6052.03,"seg":11},{"lat":-18.90,"r":6052.07,"seg":11},{"lat":-18.58,"r":6052.06,"seg":11},{"lat":-18.27,"r":6052.10,"seg":11},{"lat":-17.96,"r":6052.14,"seg":11},{"lat":-17.65,"r":6052.19,"seg":11},{"lat":-17.34,"r":6052.24,"seg":11},{"lat":-17.00,"r":6052.27,"seg":11},{"lat":-16.62,"r":6052.29,"seg":11},{"lat":-16.45,"r":6052.22,"seg":11},{"lat":-16.31,"r":6052.16,"seg":11},{"lat":-16.10,"r":6052.25,"seg":11},{"lat":-15.93,"r":6052.31,"seg":11},{"lat":-15.89,"r":6052.45,"seg":11},{"lat":-15.85,"r":6052.56,"seg":11},{"lat":-15.73,"r":6052.71,"seg":11},{"lat":-15.58,"r":6052.88,"seg":11},{"lat":-15.38,"r":6053.03,"seg":11},{"lat":-15.10,"r":6053.06,"seg":11},{"lat":-14.86,"r":6053.08,"seg":11},{"lat":-14.55,"r":6053.11,"seg":11},{"lat":-14.24,"r":6053.13,"seg":11},{"lat":-13.93,"r":6053.14,"seg":11},{"lat":-13.62,"r":6053.15,"seg":11},{"lat":-13.36,"r":6053.17,"seg":11},{"lat":-13.10,"r":6053.20,"seg":11},
{"lat":-13.10,"r":6053.90,"seg":12},
{"lat":-13.00,"r":6054.34,"seg":13},
{"lat":-13.05,"r":6054.61,"seg":14},
{"lat":-12.85,"r":6054.99,"seg":15},{"lat":-12.70,"r":6054.99,"seg":15},
{"lat":-12.45,"r":6054.84,"seg":16},
{"lat":-12.85,"r":6054.73,"seg":17},
{"lat":-12.20,"r":6054.61,"seg":18},
{"lat":-12.00,"r":6054.14,"seg":19},{"lat":-11.80,"r":6054.14,"seg":19},{"lat":-11.65,"r":6054.17,"seg":19},
{"lat":-11.45,"r":6054.29,"seg":20},
{"lat":-11.30,"r":6054.46,"seg":21},{"lat":-11.24,"r":6054.52,"seg":21},
{"lat":-11.10,"r":6054.72,"seg":22},{"lat":-11.02,"r":6054.80,"seg":22},
{"lat":-10.98,"r":6055.23,"seg":23},{"lat":-10.75,"r":6055.33,"seg":23},{"lat":-10.52,"r":6055.33,"seg":23},{"lat":-10.25,"r":6055.30,"seg":23},{"lat":-10.00,"r":6055.28,"seg":23},
{"lat":-9.90,"r":6055.53,"seg":24},{"lat":-9.59,"r":6055.83,"seg":24},{"lat":-9.35,"r":6055.86,"seg":24},{"lat":-9.07,"r":6055.88,"seg":24},{"lat":-8.75,"r":6055.91,"seg":24},{"lat":-8.45,"r":6055.93,"seg":24},{"lat":-8.15,"r":6055.92,"seg":24},{"lat":-7.93,"r":6055.90,"seg":24},
{"lat":-8.86,"r":6056.07,"seg":25},{"lat":-8.55,"r":6056.10,"seg":25},{"lat":-8.24,"r":6056.12,"seg":25},{"lat":-8.00,"r":6056.16,"seg":25},{"lat":-7.83,"r":6056.20,"seg":25},{"lat":-7.62,"r":6056.32,"seg":25},{"lat":-7.40,"r":6056.39,"seg":25},{"lat":-7.21,"r":6056.45,"seg":25},{"lat":-7.00,"r":6056.62,"seg":25},{"lat":-6.80,"r":6056.66,"seg":25},{"lat":-6.59,"r":6056.67,"seg":25},{"lat":-6.38,"r":6056.64,"seg":25},{"lat":-6.18,"r":6056.59,"seg":25},{"lat":-5.97,"r":6056.45,"seg":25},{"lat":-5.76,"r":6056.40,"seg":25},{"lat":-5.56,"r":6056.37,"seg":25},{"lat":-5.25,"r":6056.32,"seg":25},{"lat":-4.94,"r":6056.27,"seg":25},{"lat":-4.63,"r":6056.20,"seg":25},{"lat":-4.32,"r":6056.12,"seg":25},{"lat":-4.10,"r":6056.11,"seg":25},{"lat":-3.90,"r":6056.12,"seg":25},{"lat":-3.70,"r":6056.22,"seg":25},{"lat":-3.49,"r":6056.30,"seg":25},{"lat":-3.18,"r":6056.36,"seg":25},{"lat":-2.87,"r":6056.42,"seg":25},{"lat":-2.66,"r":6056.35,"seg":25},{"lat":-2.46,"r":6056.27,"seg":25},{"lat":-2.25,"r":6056.20,"seg":25},{"lat":-2.04,"r":6056.12,"seg":25},{"lat":-1.84,"r":6056.03,"seg":25},{"lat":-1.63,"r":6055.93,"seg":25},{"lat":-1.37,"r":6055.85,"seg":25},{"lat":-1.11,"r":6055.78,"seg":25},{"lat":-0.95,"r":6055.69,"seg":25},{"lat":-0.80,"r":6055.60,"seg":25},{"lat":-0.60,"r":6055.53,"seg":25},{"lat":-0.39,"r":6055.46,"seg":25},{"lat":-0.18,"r":6055.38,"seg":25},{"lat":0.02,"r":6055.31,"seg":25},{"lat":0.12,"r":6055.22,"seg":25},{"lat":0.23,"r":6055.13,"seg":25},{"lat":0.54,"r":6055.08,"seg":25},{"lat":0.85,"r":6055.03,"seg":25},{"lat":1.25,"r":6055.02,"seg":25},{"lat":1.68,"r":6055.01,"seg":25},
{"lat":2.00,"r":6054.42,"seg":26},{"lat":2.30,"r":6054.45,"seg":26},{"lat":2.71,"r":6054.46,"seg":26},{"lat":2.95,"r":6054.40,"seg":26},{"lat":3.23,"r":6054.32,"seg":26},
{"lat":3.40,"r":6054.12,"seg":27},{"lat":3.54,"r":6054.07,"seg":27},{"lat":3.85,"r":6054.10,"seg":27},{"lat":4.16,"r":6054.12,"seg":27},
{"lat":4.45,"r":6054.30,"seg":28},
{"lat":4.57,"r":6054.41,"seg":29},
{"lat":4.70,"r":6054.70,"seg":30},
{"lat":4.80,"r":6054.90,"seg":31},
{"lat":4.98,"r":6055.23,"seg":32},
{"lat":5.10,"r":6055.40,"seg":33},{"lat":5.19,"r":6055.48,"seg":33},{"lat":5.40,"r":6055.46,"seg":33},{"lat":5.61,"r":6055.41,"seg":33},{"lat":5.80,"r":6055.28,"seg":33},{"lat":6.02,"r":6055.11,"seg":33},{"lat":6.20,"r":6055.00,"seg":33},{"lat":6.33,"r":6054.94,"seg":33},
{"lat":6.43,"r":6054.76,"seg":34},
{"lat":6.53,"r":6054.64,"seg":35},
{"lat":6.62,"r":6054.24,"seg":36},
{"lat":6.68,"r":6053.92,"seg":37},
{"lat":6.74,"r":6053.19,"seg":38},{"lat":6.85,"r":6053.05,"seg":38},{"lat":7.10,"r":6053.00,"seg":38},{"lat":7.47,"r":6052.95,"seg":38},{"lat":7.65,"r":6052.88,"seg":38},{"lat":7.78,"r":6052.83,"seg":38},
{"lat":7.90,"r":6052.26,"seg":39},{"lat":8.05,"r":6052.26,"seg":39},
{"lat":8.30,"r":6052.60,"seg":40},{"lat":8.50,"r":6052.52,"seg":40},{"lat":8.70,"r":6052.47,"seg":40},{"lat":8.91,"r":6052.41,"seg":40},{"lat":9.12,"r":6052.29,"seg":40},{"lat":9.33,"r":6052.16,"seg":40},{"lat":9.53,"r":6052.01,"seg":40},{"lat":9.74,"r":6051.95,"seg":40},{"lat":9.95,"r":6051.92,"seg":40},{"lat":10.25,"r":6051.93,"seg":40},{"lat":10.57,"r":6051.94,"seg":40},{"lat":10.94,"r":6051.94,"seg":40},{"lat":11.35,"r":6051.90,"seg":40},{"lat":11.77,"r":6051.86,"seg":40},{"lat":12.08,"r":6051.88,"seg":40},{"lat":12.39,"r":6051.91,"seg":40},{"lat":12.65,"r":6051.96,"seg":40},{"lat":12.90,"r":6052.01,"seg":40},{"lat":13.10,"r":6051.99,"seg":40},{"lat":13.32,"r":6051.94,"seg":40},{"lat":13.42,"r":6051.86,"seg":40},{"lat":13.52,"r":6051.78,"seg":40},{"lat":13.78,"r":6051.70,"seg":40},{"lat":14.04,"r":6051.62,"seg":40},{"lat":14.35,"r":6051.68,"seg":40},{"lat":14.66,"r":6051.75,"seg":40},{"lat":14.97,"r":6051.68,"seg":40},{"lat":15.28,"r":6051.61,"seg":40},{"lat":15.54,"r":6051.52,"seg":40},{"lat":15.80,"r":6051.43,"seg":40},{"lat":16.10,"r":6051.39,"seg":40},{"lat":16.42,"r":6051.37,"seg":40},{"lat":16.68,"r":6051.40,"seg":40},{"lat":16.93,"r":6051.44,"seg":40},{"lat":17.25,"r":6051.47,"seg":40},{"lat":17.55,"r":6051.50,"seg":40},{"lat":17.76,"r":6051.56,"seg":40},{"lat":17.97,"r":6051.62,"seg":40},{"lat":18.33,"r":6051.72,"seg":40},{"lat":18.69,"r":6051.82,"seg":40},{"lat":19.05,"r":6051.80,"seg":40},{"lat":19.41,"r":6051.77,"seg":40},{"lat":19.72,"r":6051.72,"seg":40},{"lat":20.03,"r":6051.66,"seg":40},{"lat":20.10,"r":6051.60,"seg":40},{"lat":20.20,"r":6051.54,"seg":40},{"lat":20.50,"r":6051.55,"seg":40},{"lat":20.86,"r":6051.55,"seg":40},{"lat":21.17,"r":6051.55,"seg":40},{"lat":21.48,"r":6051.54,"seg":40},{"lat":21.79,"r":6051.52,"seg":40},{"lat":22.10,"r":6051.50,"seg":40},{"lat":22.50,"r":6051.48,"seg":40},{"lat":22.93,"r":6051.46,"seg":40},{"lat":23.14,"r":6051.50,"seg":40},{"lat":23.34,"r":6051.54,"seg":40},{"lat":23.75,"r":6051.58,"seg":40},{"lat":24.17,"r":6051.62,"seg":40},{"lat":24.58,"r":6051.70,"seg":40},{"lat":25.00,"r":6051.78,"seg":40},{"lat":25.20,"r":6051.85,"seg":40},{"lat":25.41,"r":6051.91,"seg":40},{"lat":25.72,"r":6051.94,"seg":40},{"lat":25.88,"r":6051.87,"seg":40},{"lat":26.03,"r":6051.80,"seg":40},{"lat":26.18,"r":6051.65,"seg":40},{"lat":26.34,"r":6051.51,"seg":40},{"lat":26.55,"r":6051.49,"seg":40},{"lat":26.70,"r":6051.47,"seg":40},
{"lat":26.75,"r":6051.85,"seg":41},{"lat":27.00,"r":6051.90,"seg":41},{"lat":27.27,"r":6051.94,"seg":41},{"lat":27.58,"r":6051.96,"seg":41},{"lat":27.89,"r":6051.97,"seg":41},{"lat":28.20,"r":6052.02,"seg":41},{"lat":28.47,"r":6052.07,"seg":41},{"lat":28.58,"r":6052.00,"seg":41},
{"lat":28.69,"r":6051.91,"seg":42},
{"lat":28.85,"r":6051.80,"seg":43},
{"lat":28.98,"r":6051.71,"seg":44},
{"lat":29.07,"r":6051.57,"seg":60},
{"lat":29.17,"r":6051.47,"seg":61},
{"lat":29.27,"r":6051.39,"seg":45},{"lat":29.45,"r":6051.31,"seg":45},{"lat":29.65,"r":6051.28,"seg":45},{"lat":29.96,"r":6051.25,"seg":45},{"lat":30.27,"r":6051.22,"seg":45},{"lat":30.58,"r":6051.20,"seg":45},
{"lat":30.70,"r":6051.27,"seg":46},
{"lat":30.81,"r":6051.36,"seg":47},
{"lat":31.00,"r":6051.48,"seg":48},
{"lat":31.10,"r":6051.58,"seg":62},
{"lat":31.20,"r":6051.66,"seg":63},
{"lat":31.29,"r":6051.75,"seg":64},
{"lat":31.39,"r":6051.83,"seg":65},
{"lat":31.55,"r":6051.90,"seg":49},{"lat":31.75,"r":6051.89,"seg":49},{"lat":32.02,"r":6051.87,"seg":49},{"lat":32.23,"r":6051.88,"seg":49},{"lat":32.44,"r":6051.90,"seg":49},{"lat":32.65,"r":6051.88,"seg":49},{"lat":32.85,"r":6051.86,"seg":49},{"lat":33.06,"r":6051.83,"seg":49},{"lat":33.26,"r":6051.80,"seg":49},{"lat":33.47,"r":6051.78,"seg":49},{"lat":33.62,"r":6051.75,"seg":49},
{"lat":33.80,"r":6051.71,"seg":50},
{"lat":33.99,"r":6051.64,"seg":66},
{"lat":34.07,"r":6051.55,"seg":67},
{"lat":34.12,"r":6051.47,"seg":68},
{"lat":34.28,"r":6051.36,"seg":51},{"lat":34.50,"r":6051.29,"seg":51},{"lat":34.80,"r":6051.33,"seg":51},{"lat":35.12,"r":6051.41,"seg":51},{"lat":35.43,"r":6051.52,"seg":51},{"lat":35.74,"r":6051.64,"seg":51},{"lat":35.95,"r":6051.71,"seg":51},{"lat":36.16,"r":6051.78,"seg":51},{"lat":36.47,"r":6051.72,"seg":51},{"lat":36.78,"r":6051.66,"seg":51},{"lat":37.09,"r":6051.58,"seg":51},{"lat":37.40,"r":6051.50,"seg":51},{"lat":37.71,"r":6051.43,"seg":51},{"lat":38.02,"r":6051.36,"seg":51},{"lat":38.33,"r":6051.41,"seg":51},{"lat":38.64,"r":6051.47,"seg":51},{"lat":38.95,"r":6051.51,"seg":51},{"lat":39.26,"r":6051.54,"seg":51},{"lat":39.57,"r":6051.52,"seg":51},{"lat":39.88,"r":6051.50,"seg":51},{"lat":40.19,"r":6051.55,"seg":51},{"lat":40.50,"r":6051.60,"seg":51},{"lat":40.91,"r":6051.63,"seg":51},{"lat":41.32,"r":6051.65,"seg":51},{"lat":41.60,"r":6051.65,"seg":51},{"lat":41.84,"r":6051.64,"seg":51},{"lat":41.95,"r":6051.54,"seg":51},{"lat":42.05,"r":6051.44,"seg":51}
]
},
"resolve": {"axis": {"x": "independent", "y": "independent"}},
"layer": [
{
  "data": {"name": "raw"},
  "mark": {"type": "circle", "color": "black", "size": 88, "opacity": 1},
  "encoding": {
    "x": {"field": "lat", "type": "quantitative", "scale": {"domain": [-90, 90], "nice": false, "zero": false},
      "axis": {"orient": "bottom", "values": [-90, -60, -30, 0, 30, 60, 90], "ticks": false, "tickSize": 0, "labelExpr": "'' + datum.value", "labelPadding": 21, "labelBaseline": "top", "labelAlign": "center", "title": "Latitude, deg", "titleX": 1555, "titleY": 159, "titleAlign": "center", "titleBaseline": "alphabetic", "titleAngle": 0}},
    "y": {"field": "r", "type": "quantitative", "scale": {"domain": [6045, 6065], "nice": false, "zero": false},
      "axis": {"orient": "left", "values": [6045, 6050, 6055, 6060, 6065], "ticks": false, "tickSize": 0, "labelExpr": "'' + datum.value", "labelPadding": 47, "labelBaseline": "middle", "labelAlign": "right", "title": "Radius, km", "titleX": -284, "titleY": 1198, "titleAlign": "center", "titleBaseline": "alphabetic", "titleAngle": 270}}
  }
},
{
  "data": {"name": "smooth"},
  "mark": {"type": "line", "color": "red", "strokeWidth": 12, "strokeCap": "round", "strokeJoin": "round"},
  "encoding": {
    "x": {"field": "lat", "type": "quantitative", "scale": {"domain": [-90, 90], "nice": false, "zero": false},
      "axis": {"orient": "bottom", "values": [-90,-85,-80,-75,-70,-65,-60,-55,-50,-45,-40,-35,-30,-25,-20,-15,-10,-5,0,5,10,15,20,25,30,35,40,45,50,55,60,65,70,75,80,85,90], "labels": false, "title": null, "tickSize": {"condition": {"test": "datum.value % 30 === 0", "value": -113}, "value": -58}}},
    "y": {"field": "r", "type": "quantitative", "scale": {"domain": [6045, 6065], "nice": false, "zero": false},
      "axis": {"orient": "left", "values": [6045,6046,6047,6048,6049,6050,6051,6052,6053,6054,6055,6056,6057,6058,6059,6060,6061,6062,6063,6064,6065], "labels": false, "title": null, "tickSize": {"condition": {"test": "datum.value % 5 === 0", "value": -113}, "value": -56}}},
    "detail": {"field": "seg", "type": "nominal"}
  }
},
{
  "data": {"name": "smooth"},
  "mark": {"type": "circle", "color": "red", "size": 113, "opacity": 1},
  "encoding": {
    "x": {"field": "lat", "type": "quantitative", "scale": {"domain": [-90, 90], "nice": false, "zero": false},
      "axis": {"orient": "top", "values": [-90,-85,-80,-75,-70,-65,-60,-55,-50,-45,-40,-35,-30,-25,-20,-15,-10,-5,0,5,10,15,20,25,30,35,40,45,50,55,60,65,70,75,80,85,90], "labels": false, "title": null, "tickSize": {"condition": {"test": "datum.value % 30 === 0", "value": -113}, "value": -58}}},
    "y": {"field": "r", "type": "quantitative", "scale": {"domain": [6045, 6065], "nice": false, "zero": false},
      "axis": {"orient": "right", "values": [6045,6046,6047,6048,6049,6050,6051,6052,6053,6054,6055,6056,6057,6058,6059,6060,6061,6062,6063,6064,6065], "labels": false, "title": null, "tickSize": {"condition": {"test": "datum.value % 5 === 0", "value": -113}, "value": -56}}}
  }
}
]
}
